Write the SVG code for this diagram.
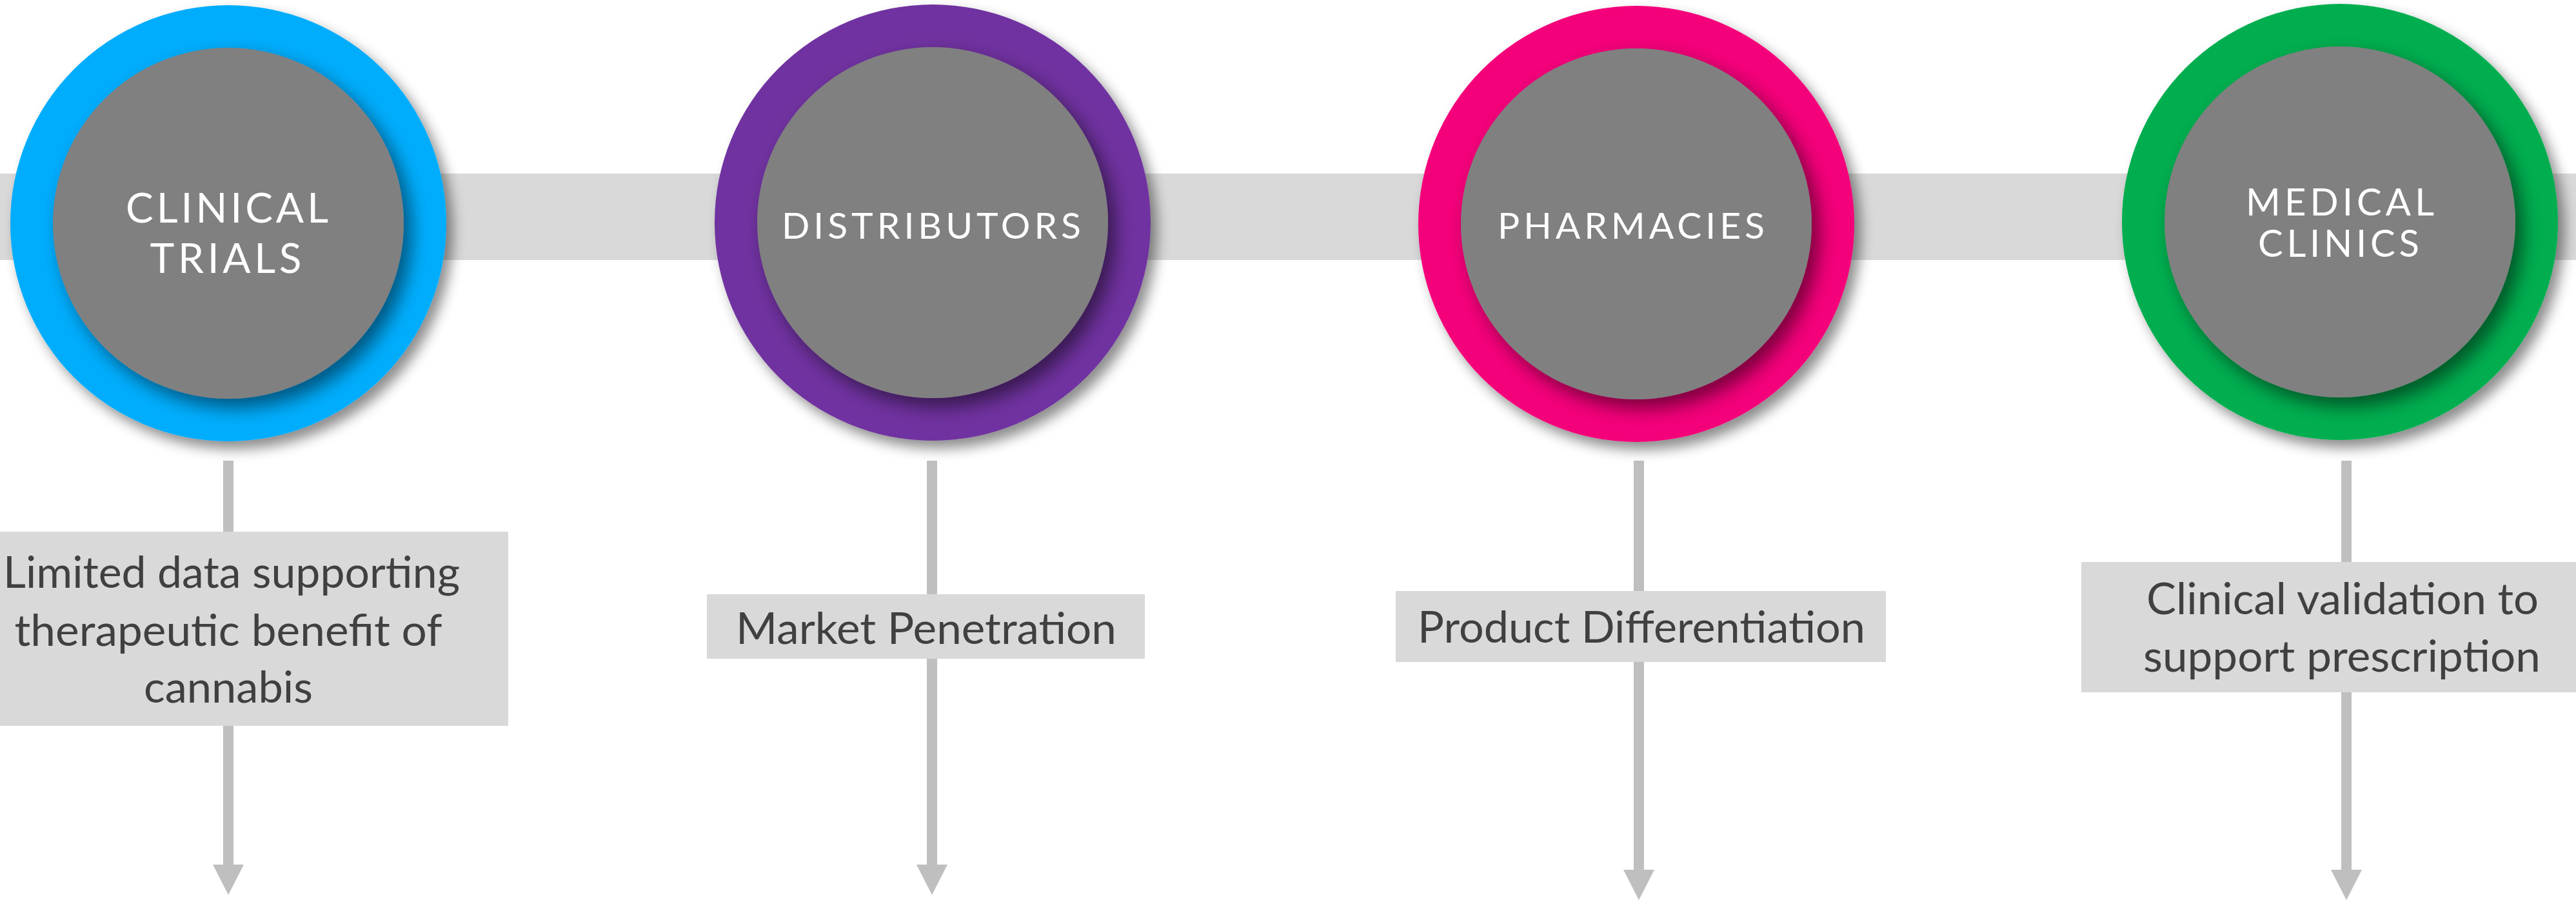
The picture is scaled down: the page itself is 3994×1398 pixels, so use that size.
<svg xmlns="http://www.w3.org/2000/svg" width="3994" height="1398" viewBox="0 0 3994 1398">
<defs>
<style>
.band{fill:#d9d9d9}
.box{fill:#d9d9d9}
.inner{fill:#808080}
.ctext{font-family:Lato,"Open Sans","Liberation Sans",sans-serif;fill:#ffffff;text-anchor:middle}
.btext{font-family:Lato,"Open Sans","Liberation Sans",sans-serif;fill:#404040;text-anchor:middle;font-size:67px}
.conn{stroke:#bfbfbf;stroke-width:16;fill:none}
</style>
<filter id="shOuter" x="-20%" y="-20%" width="150%" height="150%">
<feDropShadow dx="10" dy="12" stdDeviation="10" flood-color="#000" flood-opacity="0.45"/>
</filter>
<filter id="shInner" x="-20%" y="-20%" width="150%" height="150%">
<feDropShadow dx="12" dy="14" stdDeviation="14" flood-color="#000" flood-opacity="0.5"/>
</filter>
<marker id="arr" viewBox="0 0 47 48" markerWidth="47" markerHeight="48" markerUnits="userSpaceOnUse" refX="0" refY="24" orient="auto">
<path d="M0,0 L47,24 L0,48 z" fill="#bfbfbf"/>
</marker>
</defs>
<rect width="3994" height="1398" fill="#ffffff"/>
<rect id="band" class="band" x="0" y="269" width="3994" height="134"/>

<g id="connectors">
<line class="conn" x1="354" y1="714" x2="354" y2="1340" marker-end="url(#arr)"/>
<line class="conn" x1="1445" y1="714" x2="1445" y2="1340" marker-end="url(#arr)"/>
<line class="conn" x1="2541" y1="714" x2="2541" y2="1348" marker-end="url(#arr)"/>
<line class="conn" x1="3638" y1="714" x2="3638" y2="1348" marker-end="url(#arr)"/>
</g>

<g id="node-clinical-trials">
<circle cx="354" cy="346" r="338" fill="#05adfd" filter="url(#shOuter)"/>
<circle class="inner" cx="354" cy="346" r="272" filter="url(#shInner)"/>
<text class="ctext" font-size="64" x="352" y="345" textLength="314" lengthAdjust="spacing">CLINICAL</text>
<text class="ctext" font-size="64" x="350" y="423" textLength="235" lengthAdjust="spacing">TRIALS</text>
</g>

<g id="node-distributors">
<circle cx="1446" cy="345" r="338" fill="#7030a0" filter="url(#shOuter)"/>
<circle class="inner" cx="1446" cy="345" r="272" filter="url(#shInner)"/>
<text class="ctext" font-size="57" x="1444" y="370" textLength="464" lengthAdjust="spacing">DISTRIBUTORS</text>
</g>

<g id="node-pharmacies">
<circle cx="2537" cy="347" r="338" fill="#f4047a" filter="url(#shOuter)"/>
<circle class="inner" cx="2537" cy="347" r="272" filter="url(#shInner)"/>
<text class="ctext" font-size="57" x="2529" y="370" textLength="414" lengthAdjust="spacing">PHARMACIES</text>
</g>

<g id="node-medical-clinics">
<circle cx="3628" cy="344" r="338" fill="#00ae50" filter="url(#shOuter)"/>
<circle class="inner" cx="3628" cy="344" r="272" filter="url(#shInner)"/>
<text class="ctext" font-size="58" x="3628" y="334" textLength="292" lengthAdjust="spacing">MEDICAL</text>
<text class="ctext" font-size="58" x="3626" y="398" textLength="250" lengthAdjust="spacing">CLINICS</text>
</g>

<g id="box-limited-data">
<rect class="box" x="-80" y="824" width="868" height="301"/>
<text class="btext" x="359" y="911" textLength="708" lengthAdjust="spacingAndGlyphs">Limited data supporting</text>
<text class="btext" x="354" y="1001" textLength="663" lengthAdjust="spacingAndGlyphs">therapeutic benefit of</text>
<text class="btext" x="354" y="1089" textLength="262" lengthAdjust="spacingAndGlyphs">cannabis</text>
</g>

<g id="box-market-penetration">
<rect class="box" x="1096" y="921" width="679" height="100"/>
<text class="btext" x="1436" y="998" textLength="590" lengthAdjust="spacingAndGlyphs">Market Penetration</text>
</g>

<g id="box-product-differentiation">
<rect class="box" x="2164" y="916" width="760" height="110"/>
<text class="btext" x="2545" y="996" textLength="694" lengthAdjust="spacingAndGlyphs">Product Differentiation</text>
</g>

<g id="box-clinical-validation">
<rect class="box" x="3227" y="871" width="822" height="202"/>
<text class="btext" x="3632" y="952" textLength="608" lengthAdjust="spacingAndGlyphs">Clinical validation to</text>
<text class="btext" x="3631" y="1041" textLength="616" lengthAdjust="spacingAndGlyphs">support prescription</text>
</g>
</svg>
